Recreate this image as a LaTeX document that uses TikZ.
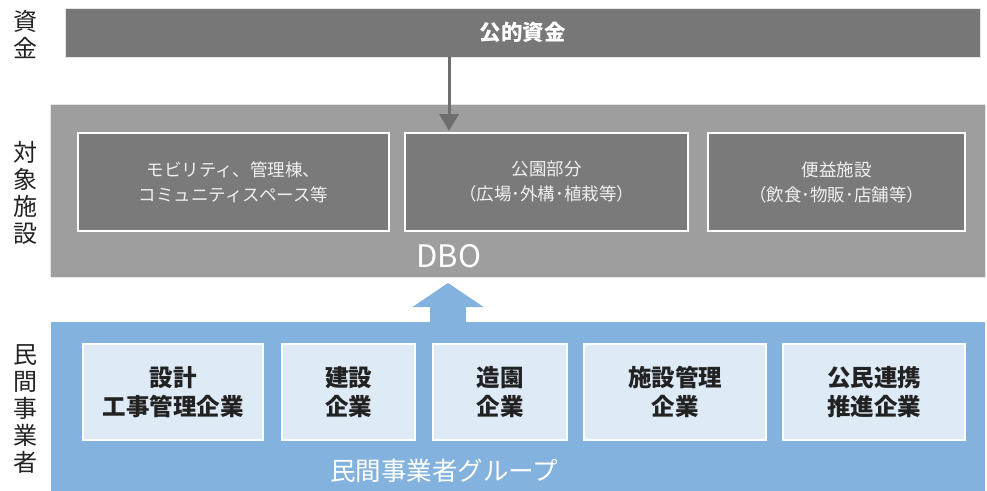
\documentclass[tikz,border=0pt]{standalone}
\usepackage{fontspec}
\setmainfont{Noto Sans CJK JP}
\usetikzlibrary{arrows.meta}
\definecolor{topgray}{HTML}{777777}
\definecolor{midgray}{HTML}{9E9E9E}
\definecolor{boxgray}{HTML}{7A7A7A}
\definecolor{arrgray}{HTML}{6E6E6E}
\definecolor{bluepanel}{HTML}{83B2DE}
\definecolor{bluebox}{HTML}{DEEAF6}
\definecolor{darktext}{HTML}{222222}
\tikzset{
  panel/.style={rectangle, inner sep=0pt, draw=white!80!gray, line width=0.8pt},
  graybox/.style={rectangle, inner sep=0pt, fill=boxgray, draw=white, line width=1.2pt,
    minimum height=98pt, text=white!94!black, font=\fontsize{17.5}{25}\selectfont, align=center},
  bluebox/.style={rectangle, inner sep=0pt, fill=bluebox, draw=white, line width=1.2pt,
    minimum height=96pt, text=darktext, font=\bfseries\fontsize{23.5}{28.5}\selectfont, align=center},
  sidelabel/.style={inner sep=0pt, text=darktext, font=\fontsize{24}{27}\selectfont, align=center},
}
\begin{document}
\begin{tikzpicture}[x=1pt,y=-1pt]
\useasboundingbox (0,0) rectangle (987,490);
% panels
\node[panel, fill=topgray, minimum width=915pt, minimum height=49pt,
  text=white, font=\bfseries\fontsize{21.5}{24}\selectfont] (fund) at (522.5,32.5) {公的資金};
\node[panel, fill=midgray, minimum width=935pt, minimum height=173pt] (mid) at (517.5,190.5) {};
\node[rectangle, inner sep=0pt, fill=bluepanel, minimum width=934pt, minimum height=170pt] (group) at (518,407) {};
% gray boxes
\node[graybox, minimum width=311pt] (g1) at (233.5,182) {モビリティ、管理棟、\\コミュニティスペース等};
\node[graybox, minimum width=283pt] (g2) at (546.5,182) {公園部分\\（広場･外構･植栽等）};
\node[graybox, minimum width=257pt] (g3) at (836.5,182) {便益施設\\（飲食･物販･店舗等）};
\node[inner sep=0pt, text=white, font=\fontsize{31}{34}\selectfont] (dbo) at (449,256) {DBO};
% blue boxes
\node[bluebox, minimum width=180pt] (b1) at (173,392) {設計\\工事管理企業};
\node[bluebox, minimum width=133pt] (b2) at (348.5,392) {建設\\企業};
\node[bluebox, minimum width=134pt] (b3) at (500,392) {造園\\企業};
\node[bluebox, minimum width=182pt] (b4) at (675,392) {施設管理\\企業};
\node[bluebox, minimum width=182pt] (b5) at (874,392) {公民連携\\推進企業};
\node[inner sep=0pt, text=white, font=\fontsize{25.5}{28}\selectfont] (grp) at (444,471) {民間事業者グループ};
% side labels
\node[sidelabel] (l1) at (25,34) {資\\金};
\node[sidelabel] (l2) at (25,193) {対\\象\\施\\設};
\node[sidelabel] (l3) at (25,409) {民\\間\\事\\業\\者};
% arrows
\coordinate (fa) at (449,57);
\coordinate (fb) at (449,131);
\draw[arrgray, line width=3pt, -{Triangle[width=19pt,length=17pt]}] (fa) -- (fb);
\coordinate (ua) at (448,322.5);
\coordinate (ub) at (448,283);
\draw[bluepanel, line width=36pt, -{Triangle[width=70pt,length=24pt]}] (ua) -- (ub);
\end{tikzpicture}
\end{document}
